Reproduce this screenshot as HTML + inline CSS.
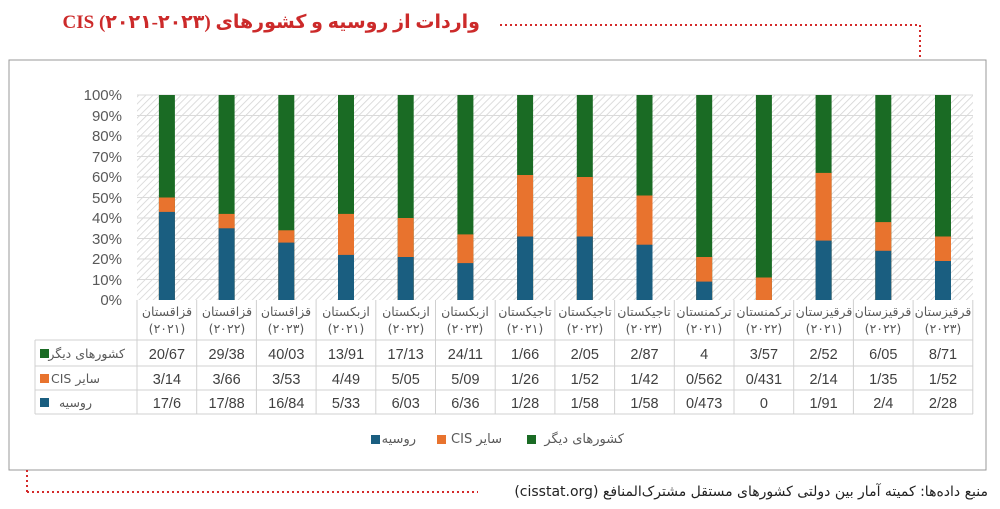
<!DOCTYPE html>
<html><head><meta charset="utf-8"><style>
body{margin:0;background:#fff;width:1000px;height:509px;overflow:hidden;position:relative}
svg{display:block;position:absolute;left:0;top:0;font-family:"Liberation Sans","DejaVu Sans",sans-serif}
.t{position:absolute;direction:rtl;white-space:nowrap;font-family:"DejaVu Sans","Liberation Sans",sans-serif;color:#595959}
.l{position:absolute;white-space:nowrap;font-family:"DejaVu Sans","Liberation Sans",sans-serif;color:#595959}
.c{position:absolute;width:60px;text-align:center;font-family:"DejaVu Sans",sans-serif;font-size:12.5px;color:#595959;line-height:17px;direction:rtl;white-space:nowrap;letter-spacing:-0.5px}
</style></head><body>
<svg width="1000" height="509" viewBox="0 0 1000 509" xmlns="http://www.w3.org/2000/svg">
<defs>
<pattern id="h" width="5" height="5" patternUnits="userSpaceOnUse" patternTransform="rotate(45)">
<rect width="5" height="5" fill="#fff"/><line x1="0" y1="0" x2="0" y2="5" stroke="#d4d4d4" stroke-width="1.6"/>
</pattern>
</defs>
<line x1="500" y1="25" x2="920" y2="25" stroke="#d42a2a" stroke-width="2" stroke-dasharray="2,3"/>
<line x1="920" y1="25" x2="920" y2="60" stroke="#d42a2a" stroke-width="2" stroke-dasharray="2,3"/>
<rect x="9" y="60" width="977" height="410" fill="#fff" stroke="#999" stroke-width="1"/>
<rect x="137" y="95" width="836" height="205" fill="url(#h)"/>
<g stroke="#dadada" stroke-width="1">
<line x1="137" y1="95" x2="973" y2="95"/><line x1="137" y1="115.5" x2="973" y2="115.5"/><line x1="137" y1="136" x2="973" y2="136"/><line x1="137" y1="156.5" x2="973" y2="156.5"/><line x1="137" y1="177" x2="973" y2="177"/><line x1="137" y1="197.5" x2="973" y2="197.5"/><line x1="137" y1="218" x2="973" y2="218"/><line x1="137" y1="238.5" x2="973" y2="238.5"/><line x1="137" y1="259" x2="973" y2="259"/><line x1="137" y1="279.5" x2="973" y2="279.5"/>
</g>
<g font-size="15" fill="#595959" text-anchor="end">
<text x="122" y="100">100%</text><text x="122" y="121">90%</text><text x="122" y="141">80%</text><text x="122" y="162">70%</text><text x="122" y="182">60%</text><text x="122" y="203">50%</text><text x="122" y="223">40%</text><text x="122" y="244">30%</text><text x="122" y="264">20%</text><text x="122" y="285">10%</text><text x="122" y="305">0%</text>
</g>
<g fill="#1a6b24">
<rect x="158.9" y="95" width="16" height="205"/><rect x="218.6" y="95" width="16" height="205"/><rect x="278.3" y="95" width="16" height="205"/><rect x="338" y="95" width="16" height="205"/><rect x="397.7" y="95" width="16" height="205"/><rect x="457.4" y="95" width="16" height="205"/><rect x="517.1" y="95" width="16" height="205"/><rect x="576.8" y="95" width="16" height="205"/><rect x="636.5" y="95" width="16" height="205"/><rect x="696.2" y="95" width="16" height="205"/><rect x="755.9" y="95" width="16" height="205"/><rect x="815.6" y="95" width="16" height="205"/><rect x="875.3" y="95" width="16" height="205"/><rect x="935" y="95" width="16" height="205"/>
</g>
<g fill="#e8732e">
<rect x="158.9" y="197.5" width="16" height="102.5"/><rect x="218.6" y="213.9" width="16" height="86.1"/><rect x="278.3" y="230.3" width="16" height="69.7"/><rect x="338" y="213.9" width="16" height="86.1"/><rect x="397.7" y="218" width="16" height="82"/><rect x="457.4" y="234.4" width="16" height="65.6"/><rect x="517.1" y="175" width="16" height="125"/><rect x="576.8" y="177" width="16" height="123"/><rect x="636.5" y="195.5" width="16" height="104.5"/><rect x="696.2" y="257" width="16" height="43"/><rect x="755.9" y="277.5" width="16" height="22.5"/><rect x="815.6" y="172.9" width="16" height="127.1"/><rect x="875.3" y="222.1" width="16" height="77.9"/><rect x="935" y="236.5" width="16" height="63.5"/>
</g>
<g fill="#1a5e80">
<rect x="158.9" y="211.9" width="16" height="88.1"/><rect x="218.6" y="228.3" width="16" height="71.7"/><rect x="278.3" y="242.6" width="16" height="57.4"/><rect x="338" y="254.9" width="16" height="45.1"/><rect x="397.7" y="257" width="16" height="43"/><rect x="457.4" y="263.1" width="16" height="36.9"/><rect x="517.1" y="236.5" width="16" height="63.5"/><rect x="576.8" y="236.5" width="16" height="63.5"/><rect x="636.5" y="244.7" width="16" height="55.3"/><rect x="696.2" y="281.6" width="16" height="18.4"/><rect x="815.6" y="240.6" width="16" height="59.4"/><rect x="875.3" y="250.8" width="16" height="49.2"/><rect x="935" y="261" width="16" height="39"/>
</g>
<g stroke="#d0d0d0" stroke-width="1" fill="none">
<line x1="35" y1="340" x2="973" y2="340"/><line x1="35" y1="366" x2="973" y2="366"/><line x1="35" y1="390" x2="973" y2="390"/><line x1="35" y1="414" x2="973" y2="414"/>
<line x1="35" y1="340" x2="35" y2="414"/>
<line x1="137" y1="300" x2="137" y2="414"/><line x1="196.7" y1="300" x2="196.7" y2="414"/><line x1="256.4" y1="300" x2="256.4" y2="414"/><line x1="316.1" y1="300" x2="316.1" y2="414"/><line x1="375.8" y1="300" x2="375.8" y2="414"/><line x1="435.5" y1="300" x2="435.5" y2="414"/><line x1="495.2" y1="300" x2="495.2" y2="414"/><line x1="554.9" y1="300" x2="554.9" y2="414"/><line x1="614.6" y1="300" x2="614.6" y2="414"/><line x1="674.3" y1="300" x2="674.3" y2="414"/><line x1="734" y1="300" x2="734" y2="414"/><line x1="793.7" y1="300" x2="793.7" y2="414"/><line x1="853.4" y1="300" x2="853.4" y2="414"/><line x1="913.1" y1="300" x2="913.1" y2="414"/><line x1="972.8" y1="300" x2="972.8" y2="414"/>
</g>
<g font-size="14.5" fill="#404040" text-anchor="middle">
<text x="166.9" y="359">20/67</text><text x="226.6" y="359">29/38</text><text x="286.3" y="359">40/03</text><text x="346" y="359">13/91</text><text x="405.7" y="359">17/13</text><text x="465.4" y="359">24/11</text><text x="525.1" y="359">1/66</text><text x="584.8" y="359">2/05</text><text x="644.5" y="359">2/87</text><text x="704.2" y="359">4</text><text x="763.9" y="359">3/57</text><text x="823.6" y="359">2/52</text><text x="883.3" y="359">6/05</text><text x="943" y="359">8/71</text>
<text x="166.9" y="384">3/14</text><text x="226.6" y="384">3/66</text><text x="286.3" y="384">3/53</text><text x="346" y="384">4/49</text><text x="405.7" y="384">5/05</text><text x="465.4" y="384">5/09</text><text x="525.1" y="384">1/26</text><text x="584.8" y="384">1/52</text><text x="644.5" y="384">1/42</text><text x="704.2" y="384">0/562</text><text x="763.9" y="384">0/431</text><text x="823.6" y="384">2/14</text><text x="883.3" y="384">1/35</text><text x="943" y="384">1/52</text>
<text x="166.9" y="408">17/6</text><text x="226.6" y="408">17/88</text><text x="286.3" y="408">16/84</text><text x="346" y="408">5/33</text><text x="405.7" y="408">6/03</text><text x="465.4" y="408">6/36</text><text x="525.1" y="408">1/28</text><text x="584.8" y="408">1/58</text><text x="644.5" y="408">1/58</text><text x="704.2" y="408">0/473</text><text x="763.9" y="408">0</text><text x="823.6" y="408">1/91</text><text x="883.3" y="408">2/4</text><text x="943" y="408">2/28</text>
</g>
<rect x="40" y="349" width="9" height="9" fill="#1a6b24"/>
<rect x="40" y="374" width="9" height="9" fill="#e8732e"/>
<rect x="40" y="398" width="9" height="9" fill="#1a5e80"/>
<rect x="371" y="435" width="9" height="9" fill="#1a5e80"/>
<rect x="437" y="435" width="9" height="9" fill="#e8732e"/>
<rect x="527" y="435" width="9" height="9" fill="#1a6b24"/>
<line x1="27" y1="470" x2="27" y2="492" stroke="#d42a2a" stroke-width="2" stroke-dasharray="2,3"/>
<line x1="27" y1="492" x2="478" y2="492" stroke="#d42a2a" stroke-width="2" stroke-dasharray="2,3"/>
</svg>
<div class="t" style="right:520px;top:11px;font-family:'Liberation Serif','DejaVu Sans',serif;font-weight:bold;font-size:19px;color:#cc2a2a">واردات از روسیه و کشورهای CIS (۲۰۲۱-۲۰۲۳)</div>
<div class="t" style="right:875px;top:346px;font-size:12.5px">کشورهای دیگر</div>
<div class="t" style="right:900px;top:371px;font-size:12.5px">سایر CIS</div>
<div class="t" style="right:908px;top:395px;font-size:12.5px">روسیه</div>
<div class="t" style="right:584px;top:432px;font-size:13px">روسیه</div>
<div class="t" style="right:498px;top:432px;font-size:13px">سایر CIS</div>
<div class="t" style="right:376px;top:432px;font-size:13px">کشورهای دیگر</div>
<div class="t" style="right:12px;top:484px;font-size:14px;color:#222">منبع داده‌ها: کمیته آمار بین دولتی کشورهای مستقل مشترک‌المنافع (cisstat.org)</div>
<div class="c" style="left:137px;top:303px">قزاقستان<br>(۲۰۲۱)</div>
<div class="c" style="left:197px;top:303px">قزاقستان<br>(۲۰۲۲)</div>
<div class="c" style="left:256px;top:303px">قزاقستان<br>(۲۰۲۳)</div>
<div class="c" style="left:316px;top:303px">ازبکستان<br>(۲۰۲۱)</div>
<div class="c" style="left:376px;top:303px">ازبکستان<br>(۲۰۲۲)</div>
<div class="c" style="left:435px;top:303px">ازبکستان<br>(۲۰۲۳)</div>
<div class="c" style="left:495px;top:303px">تاجیکستان<br>(۲۰۲۱)</div>
<div class="c" style="left:555px;top:303px">تاجیکستان<br>(۲۰۲۲)</div>
<div class="c" style="left:614px;top:303px">تاجیکستان<br>(۲۰۲۳)</div>
<div class="c" style="left:674px;top:303px">ترکمنستان<br>(۲۰۲۱)</div>
<div class="c" style="left:734px;top:303px">ترکمنستان<br>(۲۰۲۲)</div>
<div class="c" style="left:794px;top:303px">قرقیزستان<br>(۲۰۲۱)</div>
<div class="c" style="left:853px;top:303px">قرقیزستان<br>(۲۰۲۲)</div>
<div class="c" style="left:913px;top:303px">قرقیزستان<br>(۲۰۲۳)</div>
</body></html>
